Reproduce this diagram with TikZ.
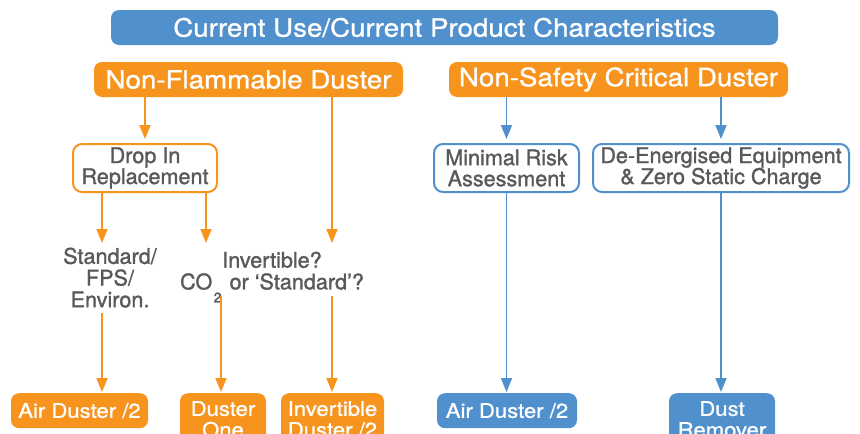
\documentclass[tikz,border=0pt]{standalone}
\usepackage{fontspec}
\setmainfont{TeX Gyre Heros}[FakeBold=1.3]
\newfontfamily\wfont{TeX Gyre Heros}[FakeStretch=1.1,FakeBold=1.0]
\usetikzlibrary{arrows.meta}
\definecolor{cblue}{HTML}{5090CD}
\definecolor{corange}{HTML}{F7941E}
\definecolor{cgrey}{HTML}{58595B}
\begin{document}
\begin{tikzpicture}[x=1pt,y=-1pt,
  solidbox/.style={rounded corners=8pt, text=white, inner sep=0pt, align=center},
  bigtext/.style={font=\wfont\fontsize{25.2}{28}\selectfont},
  smalltext/.style={font=\wfont\fontsize{20.1}{21}\selectfont},
  outbox/.style={rounded corners=9pt, line width=2pt, fill=white, text=cgrey, inner sep=0pt, align=center,
    font=\fontsize{21.6}{21}\selectfont},
  greytext/.style={text=cgrey, inner sep=0pt, align=center, font=\fontsize{21.6}{21.7}\selectfont},
  oarr/.style={draw=corange, line width=1.8pt, -{Triangle[length=14pt,width=11pt]}},
  barr/.style={draw=cblue, line width=1.8pt, -{Triangle[length=14pt,width=11pt]}},
  bottombox/.style={solidbox, smalltext, anchor=north, inner ysep=8pt}
]
\useasboundingbox (0,0) rectangle (860,434);
\clip (0,0) rectangle (860,434);

% title and headings
\node[solidbox, bigtext, fill=cblue, minimum width=667pt, minimum height=35pt] (title) at (444.5,27.5) {Current Use/Current Product Characteristics};
\node[solidbox, bigtext, fill=corange, minimum width=309pt, minimum height=35pt] (nf) at (248.5,79.5) {Non-Flammable Duster};
\node[solidbox, bigtext, fill=corange, minimum width=339pt, minimum height=35pt] (ns) at (618.5,79.5) {Non-Safety Critical Duster};

% outlined boxes
\node[outbox, draw=corange, minimum width=144pt, minimum height=48pt] (drop) at (145,168) {Drop In\\Replacement};
\node[outbox, draw=cblue, minimum width=145pt, minimum height=48pt] (mr) at (506.5,168) {Minimal Risk\\Assessment};
\node[outbox, draw=cblue, minimum width=256pt, minimum height=48pt] (de) at (721,168) {De-Energised Equipment\\\& Zero Static Charge};

% free text
\node[greytext, anchor=north] (std) at (110,247.5) {Standard/\\FPS/\\Environ.};
\node[greytext, anchor=north] (inv) at (272,251.5) {Invertible?\\CO\hspace{1.5pt}\raisebox{-13pt}{\fontsize{14}{14}\selectfont 2}\hspace{2pt} or ‘Standard’?};

% bottom boxes
\node[bottombox, fill=corange, minimum width=137pt, minimum height=35pt] (ad1) at (79.5,393) {Air Duster /2};
\node[bottombox, fill=corange, minimum width=86pt] (d1) at (223,393) {Duster\\One};
\node[bottombox, fill=corange, minimum width=103pt] (id) at (332.5,393) {Invertible\\Duster /2};
\node[bottombox, fill=cblue, minimum width=140pt, minimum height=35pt] (bad) at (507,393) {Air Duster /2};
\node[bottombox, fill=cblue, minimum width=106pt] (dr) at (722,393) {Dust\\Remover};

% coordinates for free ends
\coordinate (t1) at (102,243);
\coordinate (t2) at (206,243);
\coordinate (t3) at (332,243);
\coordinate (s1) at (102,313);
\coordinate (s2) at (221,296);
\coordinate (s3) at (332,296);

% orange connectors
\draw[oarr, shorten >=4pt] (nf.south -| drop) -- (drop.north);
\draw[oarr] (drop.south -| t1) -- (t1);
\draw[oarr] (drop.south -| t2) -- (t2);
\draw[oarr] (nf.south -| t3) -- (t3);
\draw[oarr, shorten >=1pt] (s1) -- (s1 |- ad1.north);
\draw[oarr, shorten >=1pt] (s2) -- (s2 |- d1.north);
\draw[oarr, shorten >=1pt] (s3) -- (s3 |- id.north);

% blue connectors
\draw[barr, shorten >=4pt] (ns.south -| mr) -- (mr.north);
\draw[barr, shorten >=4pt] (ns.south -| de) -- (de.north);
\draw[barr, shorten >=1pt] (mr.south) -- (mr.south |- bad.north);
\draw[barr, shorten >=1pt] (de.south) -- (de.south |- dr.north);
\end{tikzpicture}
\end{document}
